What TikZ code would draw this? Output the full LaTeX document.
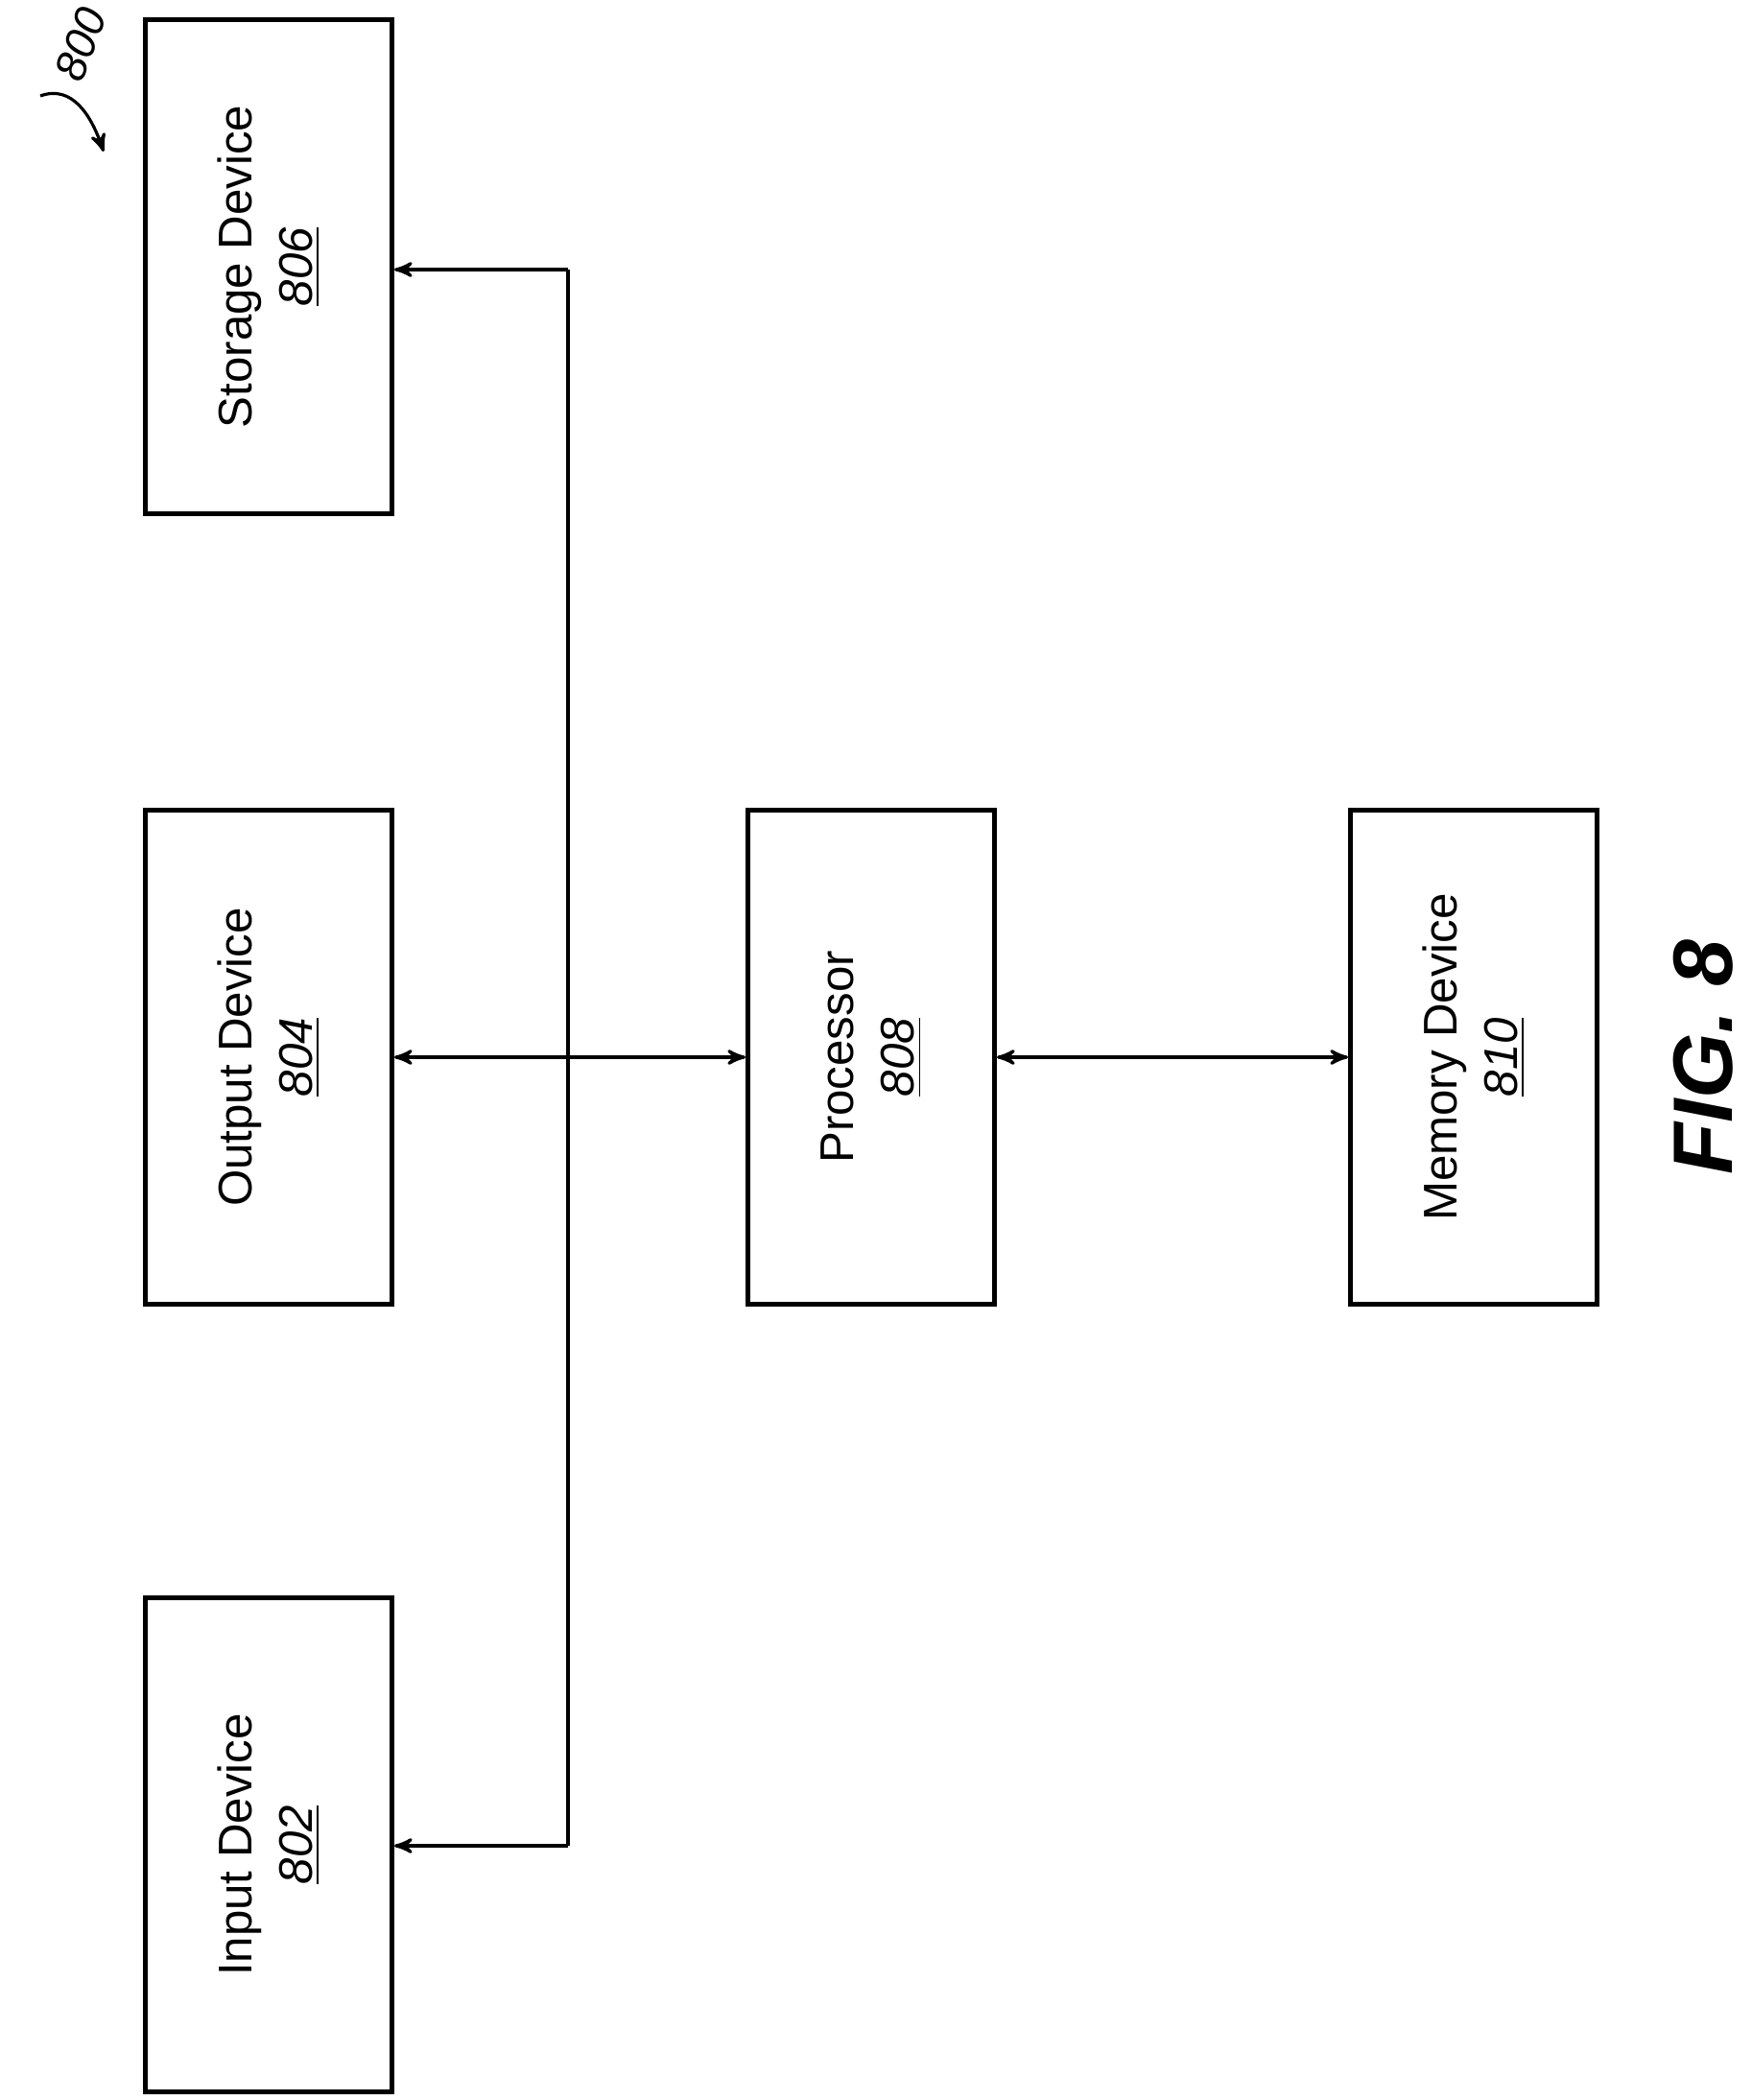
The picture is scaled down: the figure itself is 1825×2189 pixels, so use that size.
\documentclass[tikz,border=0pt]{standalone}
\usepackage{fontspec}
\setmainfont{Liberation Sans}
\usetikzlibrary{arrows, positioning}

\begin{document}
\begin{tikzpicture}[x=0.01cm,y=-0.01cm,
    devbox/.style={rectangle,draw,line width=1.4pt,minimum width=5.15cm,minimum height=2.57cm,rotate=90,align=center,font=\fontsize{14}{18}\selectfont},
    link/.style={line width=0.9pt,>=stealth'}]
    \useasboundingbox (0,0) rectangle (1825,2189);

    % Geraete
    \node[devbox] (storage) at (280,278) {Storage Device\\\underline{\textit{806}}};
    \node[devbox] (output) at (280,1102) {Output Device\\\underline{\textit{804}}};
    \node[devbox] (input) at (280,1923) {Input Device\\\underline{\textit{802}}};
    \node[devbox] (proc) at (908,1102) {Processor\\\underline{\textit{808}}};
    \node[devbox] (mem) at (1536,1102) {Memory Device\\\underline{\textit{810}}};

    % Bus
    \coordinate (bustop) at (592,281);
    \coordinate (busbot) at (592,1924);
    \draw[link,->] (bustop) -- (bustop -| storage.south);
    \draw[link,->] (busbot) -- (busbot -| input.south);
    \draw[link] (bustop) -- (busbot);
    \draw[link,<->] (output.south) -- (proc.north);
    \draw[link,<->] (proc.south) -- (mem.north);

    % Bezeichnungen
    \node[rotate=70,font=\fontsize{13}{15}\selectfont\itshape] (ref) at (84,46) {800};
    \draw[link,->] (42,100) .. controls (75,88) and (95,120) .. (108,158);
    \node[rotate=90,font=\fontsize{25}{28}\selectfont\bfseries\itshape] (fig) at (1775,1102) {FIG. 8};
\end{tikzpicture}
\end{document}
